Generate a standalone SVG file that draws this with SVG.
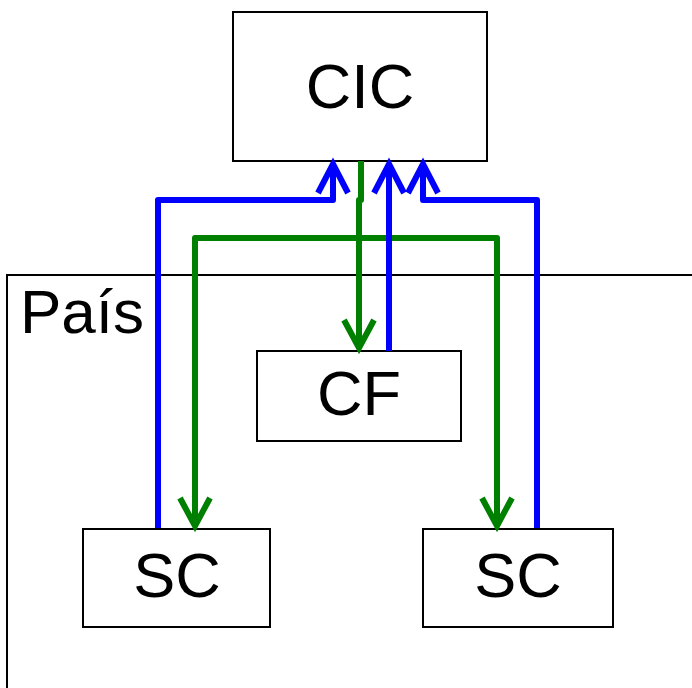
<svg xmlns="http://www.w3.org/2000/svg" width="692" height="688" viewBox="0 0 692 688">
<style>
.box{fill:#fff;stroke:#000;stroke-width:2}
.lbl{font-family:"Liberation Sans",Arial,sans-serif;font-size:63px;fill:#000;text-anchor:middle}
.blue{fill:none;stroke:#0000ff;stroke-width:6;stroke-linejoin:round}
.green{fill:none;stroke:#008000;stroke-width:6;stroke-linejoin:round}
</style>
<defs>
<marker id="ab" markerUnits="userSpaceOnUse" markerWidth="40" markerHeight="40" viewBox="-34 -20 40 40" refX="0" refY="0" orient="auto" overflow="visible">
<path d="M-29 -15 L0 0 L-29 15" fill="none" stroke="#0000ff" stroke-width="6"/>
</marker>
<marker id="ag" markerUnits="userSpaceOnUse" markerWidth="40" markerHeight="40" viewBox="-34 -20 40 40" refX="0" refY="0" orient="auto" overflow="visible">
<path d="M-28 -15 L0 0 L-28 15" fill="none" stroke="#008000" stroke-width="6"/>
</marker>
</defs>
<g id="pais">
<rect x="7" y="275" width="700" height="430" fill="none" stroke="#000" stroke-width="2"/>
<text x="82" y="333" class="lbl" style="font-size:62px">País</text>
</g>
<g id="cic">
<rect class="box" x="233" y="12" width="254" height="149"/>
<text x="360" y="108" class="lbl">CIC</text>
</g>
<g id="cf">
<rect class="box" x="257" y="351" width="204" height="90"/>
<text x="359" y="415" class="lbl">CF</text>
</g>
<g id="sc1">
<rect class="box" x="83" y="529" width="187" height="98"/>
<text x="177" y="597" class="lbl">SC</text>
</g>
<g id="sc2">
<rect class="box" x="423" y="529" width="190" height="98"/>
<text x="518" y="597" class="lbl">SC</text>
</g>
<g id="connectors">
<path class="green" d="M361 161 V200 H359 V348" marker-end="url(#ag)"/>
<path class="green" d="M359 238 H195 V526" marker-end="url(#ag)"/>
<path class="green" d="M359 238 H497 V526" marker-end="url(#ag)"/>
<path class="blue" d="M158 528 V200 H333 V164" marker-end="url(#ab)"/>
<path class="blue" d="M389 351 V164" marker-end="url(#ab)"/>
<path class="blue" d="M537 528 V200 H423 V164" marker-end="url(#ab)"/>
</g>
</svg>
